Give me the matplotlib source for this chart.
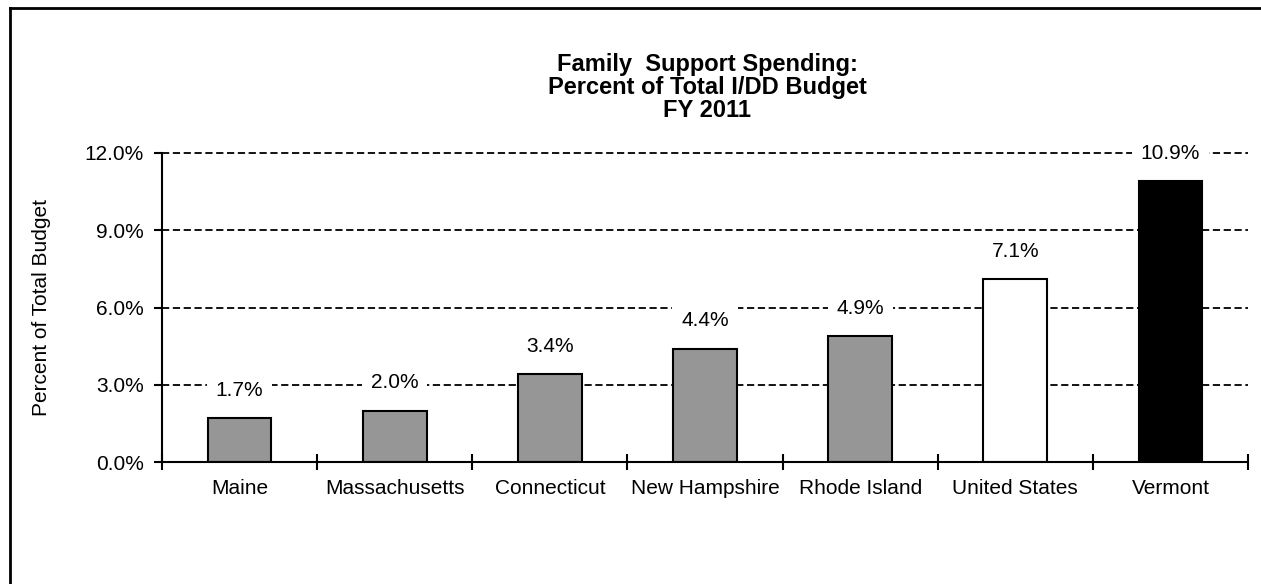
import matplotlib.pyplot as plt
from matplotlib.lines import Line2D

plt.rcParams['font.family'] = ['Liberation Sans', 'DejaVu Sans']

# ---------------------------------
# Data
# ---------------------------------
states = ["Maine", "Massachusetts", "Connecticut", "New Hampshire",
          "Rhode Island", "United States", "Vermont"]
spending_pct = [1.7, 2.0, 3.4, 4.4, 4.9, 7.1, 10.9]
bar_colors = ["#969696", "#969696", "#969696", "#969696",
              "#969696", "#ffffff", "#000000"]
y_ticks = [0, 3, 6, 9, 12]

# ---------------------------------
# Plot
# ---------------------------------
fig = plt.figure(figsize=(12.61, 5.84), dpi=100)
ax = fig.add_axes([162 / 1261, 1 - 462 / 584, (1248 - 162) / 1261, (462 - 153) / 584])

x = list(range(len(states)))
ax.bar(x, spending_pct, width=0.41, color=bar_colors, edgecolor="black",
       linewidth=1.5, zorder=3)

# dashed gridlines
for yv in y_ticks[1:]:
    ax.axhline(yv, color="black", linewidth=1.3, dashes=(4, 2), zorder=1,
               clip_on=False)

# value labels with white boxes over the gridlines
for xi, v in zip(x, spending_pct):
    ax.annotate(f"{v:.1f}%", (xi, v), xytext=(0, 20), textcoords="offset points",
                ha="center", va="center", fontsize=15, zorder=4,
                bbox=dict(boxstyle="square,pad=0.42", fc="white", ec="none"))

ax.set_xlim(-0.5, len(states) - 0.5)
ax.set_ylim(0, 12)
ax.set_yticks(y_ticks)
ax.set_yticklabels([f"{t:.1f}%" for t in y_ticks], fontsize=15)
ax.set_xticks(x)
ax.set_xticklabels(states, fontsize=15)
ax.set_xticks([i - 0.5 for i in range(len(states) + 1)], minor=True)
ax.tick_params(axis="x", which="major", length=0, pad=12)
ax.tick_params(axis="x", which="minor", direction="inout", length=11, width=1.5)
ax.tick_params(axis="y", direction="out", length=6, width=1.5, pad=7)

for side in ["top", "right"]:
    ax.spines[side].set_visible(False)
for side in ["left", "bottom"]:
    ax.spines[side].set_linewidth(1.5)
    ax.spines[side].set_zorder(5)

ax.set_ylabel("Percent of Total Budget", fontsize=15, labelpad=24)

fig.text(0.561, 1 - 88 / 584,
         "Family  Support Spending:\nPercent of Total I/DD Budget\nFY 2011",
         ha="center", va="center", fontsize=17, fontweight="bold", linespacing=1.0)

# chart border (right and bottom edges fall outside the image)
fig.add_artist(Line2D([10 / 1261, 10 / 1261], [0, 1 - 8 / 584],
                      transform=fig.transFigure, color="black", linewidth=2))
fig.add_artist(Line2D([10 / 1261, 1], [1 - 8 / 584, 1 - 8 / 584],
                      transform=fig.transFigure, color="black", linewidth=2))

fig.savefig("out.png", dpi=100, facecolor="white")
